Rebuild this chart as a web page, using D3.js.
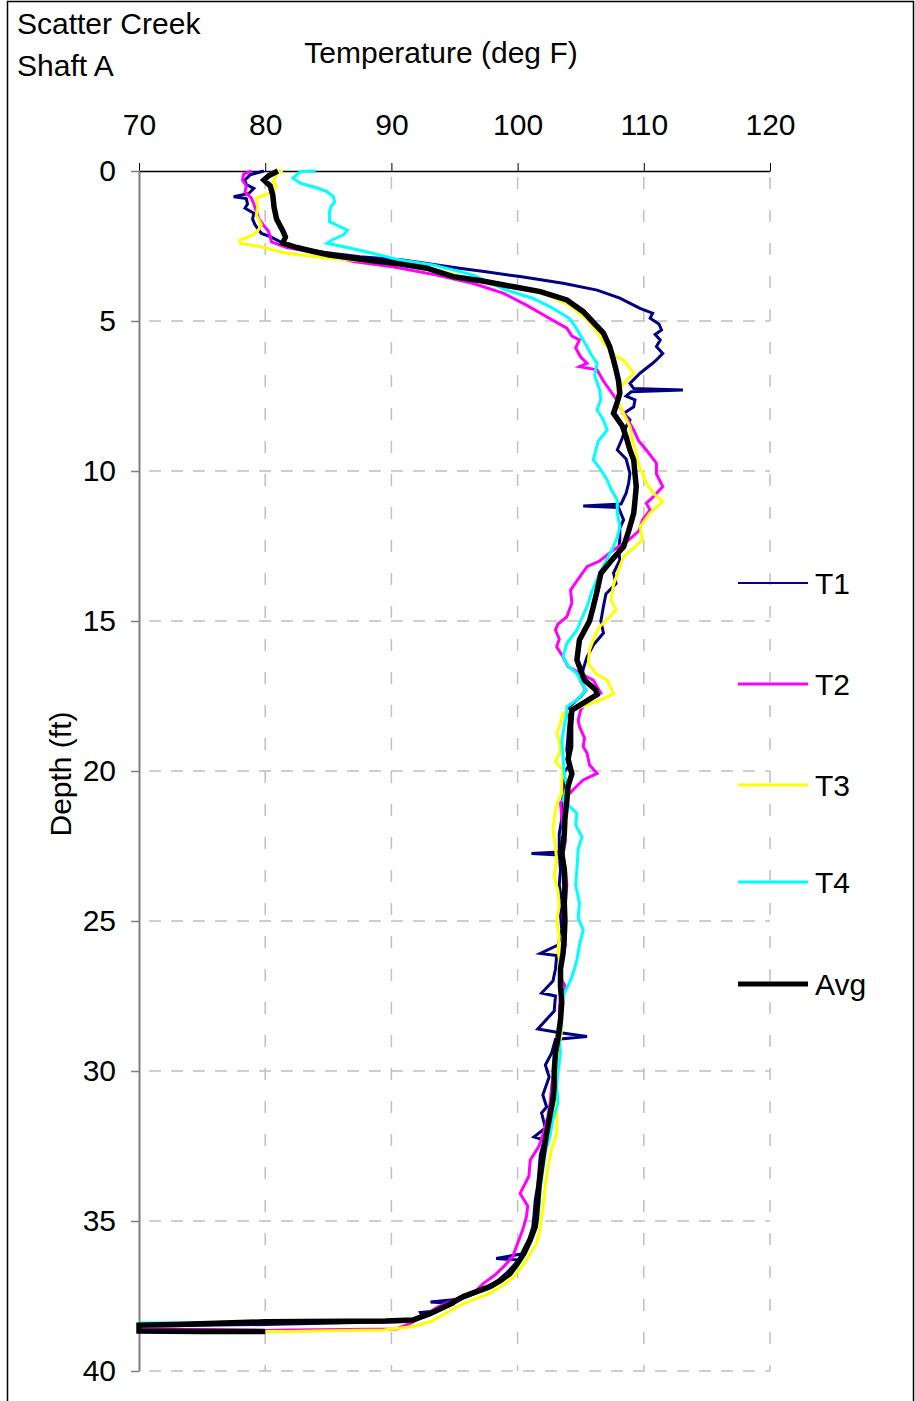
<!DOCTYPE html>
<html>
<head>
<meta charset="utf-8">
<script src="https://cdn.jsdelivr.net/npm/d3@7"></script>
<style>
  body { margin: 0; background: #fff; }
  svg text { font-family: "Liberation Sans", Arial, sans-serif; fill: #000; }
</style>
</head>
<body>
<div id="chart"></div>
<script>
// -----------------------------
// data (depth ft, temperature deg F)
// -----------------------------

const xTicks = [70, 80, 90, 100, 110, 120]
const yTicks = [0, 5, 10, 15, 20, 25, 30, 35, 40]
const seriesNames = ['T1', 'T2', 'T3', 'T4', 'Avg']

const t1 = [[0,79.9],[0.1,79.0],[0.13,78.8],[0.3,78.4],[0.45,78.5],[0.58,79.1],[0.75,78.7],[0.86,77.5],[0.92,78.5],[1.1,78.6],[1.24,78.4],[1.41,79.1],[1.6,79.0],[1.8,79.2],[2.08,79.7],[2.19,80.4],[2.47,81.7],[2.69,84.3],[2.86,87.5],[2.97,90.9],[3.08,92.8],[3.24,95.4],[3.36,97.5],[3.52,100.2],[3.74,103.6],[3.97,106.3],[4.24,108.1],[4.58,109.7],[4.74,110.7],[4.91,110.5],[5.1,111.2],[5.3,111.4],[5.45,110.9],[5.63,111.3],[5.85,111.0],[6.08,111.5],[6.3,111.0],[6.41,110.7],[6.74,109.7],[7.08,108.9],[7.25,109.2],[7.3,113.1],[7.36,109.0],[7.5,108.6],[7.63,109.3],[7.86,109.2],[8.08,108.4],[8.3,108.9],[8.52,108.6],[8.9,108.3],[9.3,107.9],[9.6,108.6],[10.08,108.9],[10.4,108.8],[10.74,108.6],[11.1,108.2],[11.17,105.2],[11.22,108.0],[11.63,108.4],[11.9,108.1],[12.3,108.1],[12.6,108.0],[12.97,108.1],[13.4,107.6],[13.75,107.8],[14.1,107.0],[14.52,106.8],[15.0,106.6],[15.4,106.8],[15.8,106.0],[16.2,105.5],[16.6,105.2],[17.0,105.0],[17.3,105.4],[17.52,105.0],[17.9,104.0],[18.3,104.1],[18.8,104.0],[19.3,103.9],[19.8,104.1],[20.1,103.6],[20.6,103.7],[21.1,103.5],[21.6,103.5],[22.1,103.3],[22.7,103.3],[22.75,101.1],[22.8,103.3],[23.3,103.4],[23.8,103.3],[24.3,103.5],[24.8,103.4],[25.3,103.5],[25.8,103.2],[26.08,101.8],[26.15,103.1],[26.6,103.0],[27.0,102.8],[27.4,101.9],[27.5,103.0],[28.0,102.9],[28.6,101.6],[28.7,103.0],[28.85,105.5],[28.95,103.0],[29.4,102.7],[29.8,102.2],[30.2,102.5],[30.8,102.0],[31.2,102.3],[31.4,101.9],[31.9,102.2],[32.2,101.3],[32.3,102.1],[32.8,101.8],[33.3,101.7],[33.8,101.6],[34.3,101.4],[34.8,101.3],[35.2,101.2],[35.6,100.9],[36.1,100.3],[36.25,98.3],[36.3,100.1],[36.7,99.2],[37.0,98.4],[37.3,97.2],[37.6,95.5],[37.7,93.1],[37.75,95.0],[38.0,93.5],[38.05,92.3],[38.2,92.5],[38.35,91.0],[38.45,80.0],[38.5,70.0]]

const t2 = [[0,78.9],[0.1,78.3],[0.3,78.2],[0.5,78.5],[0.7,78.4],[0.9,78.9],[1.1,79.1],[1.36,79.3],[1.6,79.5],[1.8,79.85],[2.0,80.25],[2.2,80.4],[2.36,80.5],[2.55,81.7],[2.7,83.8],[3.02,87.0],[3.2,90.2],[3.47,93.6],[3.75,96.5],[4.08,98.9],[4.47,100.7],[4.86,102.3],[5.24,103.9],[5.5,104.3],[5.63,104.9],[5.9,104.6],[6.2,105.0],[6.41,105.5],[6.52,104.9],[6.63,106.3],[7.0,106.8],[7.3,107.3],[7.6,107.8],[7.86,108.1],[8.2,108.6],[8.63,109.2],[9.0,109.6],[9.3,110.2],[9.74,111.0],[10.1,111.0],[10.52,111.5],[10.8,110.9],[11.08,110.2],[11.3,110.5],[11.63,109.9],[12.0,109.6],[12.3,108.8],[12.63,107.6],[13.0,106.5],[13.19,105.5],[13.6,104.8],[13.97,104.2],[14.4,104.3],[14.86,103.9],[15.1,103.2],[15.3,103.0],[15.6,103.3],[15.86,103.1],[16.2,103.6],[16.52,104.0],[16.8,105.2],[16.97,106.0],[17.2,106.3],[17.4,106.6],[17.6,105.6],[17.97,105.0],[18.3,104.8],[18.52,104.9],[18.9,105.3],[19.19,105.2],[19.4,105.5],[19.8,105.7],[20.08,106.3],[20.3,105.2],[20.5,104.7],[20.8,104.0],[21.07,103.4],[21.5,103.5],[21.86,103.6],[22.3,103.8],[22.8,103.6],[23.3,103.8],[23.8,103.9],[24.3,103.8],[24.8,103.6],[25.3,103.7],[25.8,103.8],[26.3,103.5],[26.8,103.3],[27.2,103.8],[27.5,103.4],[28.0,103.3],[28.5,103.5],[29.0,103.2],[29.5,103.0],[30.0,102.9],[30.5,102.7],[31.0,102.6],[31.5,102.4],[32.0,102.1],[32.5,101.7],[32.97,101.0],[33.5,100.9],[34.08,100.2],[34.5,100.8],[34.86,100.7],[35.3,100.4],[35.86,99.9],[36.2,99.6],[36.52,98.9],[36.8,98.2],[37.08,97.3],[37.41,96.5],[37.6,95.2],[37.86,93.7],[38.1,92.8],[38.41,91.5],[38.6,90.4],[38.63,82.2],[38.65,80.0],[38.62,75.0],[38.6,70.0]]

const t3 = [[0,81.4],[0.05,81.0],[0.2,80.8],[0.36,80.6],[0.5,80.9],[0.69,80.6],[0.91,79.3],[1.2,79.4],[1.47,79.3],[1.8,79.7],[2.0,79.4],[2.13,79.06],[2.3,78.0],[2.41,78.0],[2.52,79.6],[2.74,81.7],[2.91,85.1],[3.02,88.3],[3.13,91.2],[3.3,93.6],[3.58,96.2],[3.86,99.1],[4.02,101.8],[4.47,104.1],[4.91,105.4],[5.3,106.2],[5.7,106.8],[6.19,107.8],[6.3,108.4],[6.74,109.2],[7.08,108.4],[7.4,107.9],[7.63,107.9],[8.0,108.3],[8.52,108.9],[9.0,109.1],[9.41,109.4],[9.8,109.6],[10.08,109.9],[10.4,110.2],[10.74,110.75],[11.02,111.5],[11.2,111.0],[11.4,110.5],[11.86,109.7],[12.3,109.9],[12.86,108.4],[13.3,108.0],[13.8,107.6],[14.3,107.4],[14.63,107.8],[14.9,107.2],[15.19,106.5],[15.5,106.1],[15.97,105.7],[16.41,105.6],[16.75,106.2],[16.97,107.1],[17.41,107.6],[17.6,106.8],[17.75,105.8],[18.08,103.6],[18.4,103.4],[18.75,103.1],[19.0,103.3],[19.3,103.4],[19.7,103.0],[19.97,103.6],[20.4,103.5],[20.75,103.5],[21.0,103.2],[21.3,103.0],[21.97,102.8],[22.5,103.0],[23.0,103.1],[23.5,102.9],[24.0,103.2],[24.5,103.3],[25.0,103.1],[25.5,103.3],[26.0,103.2],[26.5,103.4],[27.0,103.5],[27.5,103.4],[28.0,103.4],[28.6,103.5],[29.2,103.3],[29.8,103.3],[30.4,103.1],[31.0,103.0],[31.5,103.1],[32.1,103.1],[32.6,102.7],[33.2,102.4],[33.8,102.2],[34.6,102.0],[35.2,101.8],[35.75,101.5],[36.3,100.7],[36.86,99.7],[37.1,99.0],[37.41,97.8],[37.75,95.7],[38.1,94.2],[38.36,93.1],[38.52,91.7],[38.63,89.4],[38.66,85.0],[38.68,82.0],[38.68,80.0]]

const t4 = [[0,84.0],[0.02,82.8],[0.24,82.2],[0.41,82.8],[0.55,84.0],[0.69,84.9],[0.85,85.4],[1.02,85.5],[1.2,85.2],[1.36,85.1],[1.69,85.1],[1.85,85.9],[1.97,86.5],[2.13,86.2],[2.3,85.3],[2.41,84.9],[2.55,86.5],[2.69,88.0],[2.97,90.7],[3.13,93.3],[3.47,96.5],[3.97,99.1],[4.24,101.2],[4.58,102.8],[4.91,104.1],[5.2,104.6],[5.5,105.0],[5.86,105.5],[6.1,105.8],[6.41,106.3],[6.8,106.1],[7.3,106.5],[7.6,106.6],[7.97,106.3],[8.3,106.8],[8.63,107.1],[9.0,106.4],[9.3,106.2],[9.63,106.0],[9.9,106.5],[10.3,107.1],[10.6,107.4],[10.97,107.9],[11.4,107.9],[11.86,108.1],[12.2,107.9],[12.52,107.6],[13.0,107.0],[13.41,106.5],[14.0,105.9],[14.52,105.5],[14.9,105.1],[15.3,104.7],[15.75,103.9],[16.19,103.6],[16.5,104.0],[16.75,104.7],[17.0,105.0],[17.3,105.4],[17.6,104.8],[17.86,103.9],[18.08,103.9],[18.5,103.7],[19.0,103.5],[19.52,103.6],[20.08,103.7],[20.5,103.9],[20.97,103.6],[21.41,104.7],[21.8,104.6],[22.2,105.1],[22.6,104.8],[23.3,104.7],[23.8,104.6],[24.4,104.9],[24.9,104.8],[25.3,105.2],[25.8,104.9],[26.3,104.7],[26.6,104.5],[26.97,104.2],[27.4,103.7],[27.86,103.4],[28.4,103.5],[28.9,103.3],[29.4,103.4],[30.0,103.2],[30.5,103.1],[31.07,103.2],[31.6,102.8],[32.1,102.6],[32.7,102.2],[33.3,102.0],[33.9,101.8],[34.5,101.7],[35.0,101.6],[35.5,101.2],[36.0,100.7],[36.5,100.0],[36.9,99.0],[37.2,98.0],[37.5,96.0],[37.8,94.6],[38.1,93.0],[38.3,91.5],[38.36,88.0],[38.38,80.0],[38.4,70.0]]

const avg = [[0,81.0],[0.15,80.3],[0.3,79.9],[0.5,80.4],[0.8,80.6],[1.2,80.7],[1.6,80.9],[2.0,81.4],[2.2,81.6],[2.4,81.4],[2.55,82.5],[2.7,84.0],[2.8,85.1],[2.97,88.0],[3.08,90.4],[3.24,92.8],[3.52,94.9],[3.65,97.0],[3.86,99.7],[4.02,101.8],[4.3,103.9],[4.69,105.2],[5.0,105.9],[5.4,106.8],[5.86,107.3],[6.3,107.6],[6.63,107.8],[7.0,108.0],[7.41,108.1],[7.7,107.9],[8.08,107.6],[8.5,108.3],[8.86,108.6],[9.3,108.9],[9.63,109.2],[10.1,109.3],[10.52,109.4],[11.0,109.3],[11.41,109.2],[12.0,108.8],[12.52,108.4],[13.0,107.4],[13.41,106.6],[14.0,106.3],[14.52,106.0],[15.0,105.7],[15.63,104.9],[16.3,104.7],[16.97,105.3],[17.3,106.2],[17.45,106.3],[17.97,104.3],[18.5,104.2],[19.2,104.2],[19.6,104.0],[20.1,104.3],[20.5,104.0],[21.0,103.9],[21.6,103.75],[22.1,103.7],[22.74,103.5],[23.3,103.7],[23.86,103.75],[24.4,103.7],[24.97,103.75],[25.5,103.7],[26.08,103.6],[26.6,103.4],[27.19,103.4],[27.7,103.5],[28.3,103.4],[28.9,103.2],[29.4,103.0],[30.0,102.9],[30.52,102.9],[30.97,102.8],[31.4,102.6],[32.08,102.3],[32.6,102.1],[33.19,101.9],[33.8,101.7],[34.3,101.6],[34.8,101.5],[35.19,101.4],[35.63,101.0],[36.08,100.5],[36.4,100.0],[36.75,99.4],[37.0,98.6],[37.19,97.8],[37.52,95.7],[37.8,94.5],[38.08,93.1],[38.3,91.7],[38.33,89.5],[38.36,80.0],[38.45,73.0],[38.47,70.0],[38.67,70.0],[38.68,75.0],[38.68,80.0]]

const seriesData = [t1, t2, t3, t4, avg]
const seriesColours = ['#000080', '#ff00ff', '#ffff00', '#00ffff', '#000000']
const seriesWidths = [3, 3, 3, 3, 5.5]

// -----------------------------
// chart
// -----------------------------

const w = 915
const h = 1401
const fontSize = 30

const x = d3.scaleLinear().domain([70, 120]).range([139, 770])
const y = d3.scaleLinear().domain([0, 40]).range([171, 1371])

const svg = d3.select('#chart')
    .append('svg')
    .attr('width', w)
    .attr('height', h)

// frame
svg.append('rect')
    .attr('x', 7.5)
    .attr('y', 1.5)
    .attr('width', 906)
    .attr('height', h + 10)
    .attr('fill', 'none')
    .attr('stroke', '#000')
    .attr('stroke-width', 1.5)

// gridlines
svg.append('g')
    .selectAll('line.vgrid')
    .data(xTicks.slice(1))
    .enter()
    .append('line')
    .attr('x1', d => x(d))
    .attr('x2', d => x(d))
    .attr('y1', y(0))
    .attr('y2', y(40))
    .attr('stroke', '#c0c0c0')
    .attr('stroke-width', 1.5)
    .attr('stroke-dasharray', '12,21')
    .attr('stroke-dashoffset', -6)

svg.append('g')
    .selectAll('line.hgrid')
    .data(yTicks.slice(1))
    .enter()
    .append('line')
    .attr('x1', x(70))
    .attr('x2', x(120))
    .attr('y1', d => y(d))
    .attr('y2', d => y(d))
    .attr('stroke', '#c0c0c0')
    .attr('stroke-width', 1.5)
    .attr('stroke-dasharray', '12,10')
    .attr('stroke-dashoffset', -10)

// axes
const xAxis = d3.axisTop(x)
    .tickValues(xTicks)
    .tickSize(8)
    .tickPadding(28)
    .tickSizeOuter(0)

const yAxis = d3.axisLeft(y)
    .tickValues(yTicks)
    .tickSize(8)
    .tickPadding(15)
    .tickSizeOuter(0)

const gx = svg.append('g')
    .attr('transform', 'translate(0,' + y(0) + ')')
    .call(xAxis)
gx.select('.domain').attr('stroke', '#000').attr('stroke-width', 1.5)
gx.selectAll('.tick line').attr('stroke', '#000')
gx.selectAll('.tick text')
    .attr('font-size', fontSize)
    .attr('font-family', '"Liberation Sans", Arial, sans-serif')

const gy = svg.append('g')
    .attr('transform', 'translate(' + x(70) + ',0)')
    .call(yAxis)
gy.select('.domain').attr('stroke', '#808080').attr('stroke-width', 2)
gy.selectAll('.tick line').attr('stroke', '#808080').attr('stroke-width', 1.5)
gy.selectAll('.tick text')
    .attr('font-size', fontSize)
    .attr('font-family', '"Liberation Sans", Arial, sans-serif')

// series
const line = d3.line()
    .x(d => x(d[1]))
    .y(d => y(d[0]))

svg.append('g')
    .selectAll('path.series')
    .data(seriesData)
    .enter()
    .append('path')
    .attr('class', 'series')
    .attr('d', line)
    .attr('fill', 'none')
    .attr('stroke', (d, i) => seriesColours[i])
    .attr('stroke-width', (d, i) => seriesWidths[i])
    .attr('stroke-linejoin', 'miter')

// titles
svg.append('text')
    .attr('x', 17)
    .attr('y', 34)
    .attr('font-size', fontSize)
    .text('Scatter Creek')

svg.append('text')
    .attr('x', 17)
    .attr('y', 76)
    .attr('font-size', fontSize)
    .text('Shaft A')

svg.append('text')
    .attr('x', 441)
    .attr('y', 63)
    .attr('font-size', fontSize)
    .attr('text-anchor', 'middle')
    .text('Temperature (deg F)')

svg.append('text')
    .attr('transform', 'translate(71,774) rotate(-90)')
    .attr('font-size', fontSize)
    .attr('text-anchor', 'middle')
    .text('Depth (ft)')

// legend
const legendY = [583, 684, 785, 882, 984]
const legend = svg.append('g')
    .selectAll('g.legend')
    .data(seriesNames)
    .enter()
    .append('g')
    .attr('transform', (d, i) => 'translate(738,' + legendY[i] + ')')

legend.append('line')
    .attr('x1', 0)
    .attr('x2', 70)
    .attr('stroke', (d, i) => seriesColours[i])
    .attr('stroke-width', (d, i) => i === 4 ? 5 : (i === 0 ? 2 : 3))

legend.append('text')
    .attr('x', 77)
    .attr('dy', '0.35em')
    .attr('font-size', fontSize)
    .text(d => d)
</script>
</body>
</html>
